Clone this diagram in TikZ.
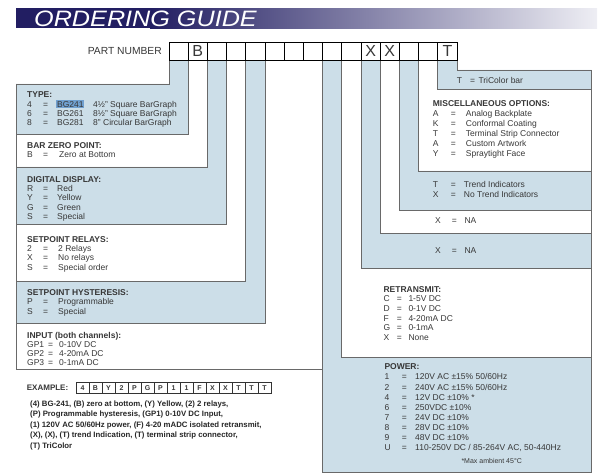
\documentclass[tikz,border=0pt]{standalone}
\usepackage{fontspec}
\setmainfont{Liberation Sans}
\usepackage{array}
\definecolor{navy}{RGB}{34,30,98}
\definecolor{navyfade}{RGB}{238,238,244}
\definecolor{tint}{RGB}{204,222,232}
\definecolor{wire}{RGB}{105,105,105}
\definecolor{ink}{RGB}{55,55,55}
\definecolor{hilite}{RGB}{112,160,208}
\setlength{\fboxsep}{0.8pt}

\begin{document}
\begin{tikzpicture}[x=1pt,y=-1pt,
    wire/.style={draw=wire,line width=0.9pt},
    pncell/.style={draw=black,line width=0.9pt,fill=white,
      minimum width=19.2pt,minimum height=18pt,inner sep=0pt,
      font=\fontsize{16}{16}\selectfont,text=ink},
    excell/.style={draw=black!80,line width=0.6pt,
      minimum width=13pt,minimum height=11pt,inner sep=0pt,
      font=\fontsize{7}{7}\selectfont\bfseries,text=ink},
    optbox/.style={anchor=north west,inner sep=0pt,text=ink,
      font=\fontsize{8.5}{#1}\selectfont}]
  \useasboundingbox (0,0) rectangle (600,476);

  % Titulo
  \fill[navy] (16,8.3) rectangle (150.5,28.3);
  \shade[left color=navy,right color=navyfade] (150,8.3) rectangle (597,28.3);
  \node[anchor=base west,inner sep=0pt,text=white,
        font=\fontsize{22.3}{24}\selectfont\itshape] (title)
        at (34,26.4) {\scalebox{1.13}[1]{ORDERING GUIDE}};

  % Fondos
  \foreach \xa/\ya/\xb/\yb in {169/84/188.2/134,207.4/167/226.6/224,
                              245.8/281/265/323}
    \fill[tint] (\xa,60) |- (16,\ya) -- (16,\yb) -| (\xb,60) -- cycle;
  \foreach \xa/\ya/\xb/\yb in {457/70/437.8/89,418.6/171/399.4/210,
                              380.2/233/361/268,341.8/357/322.6/472}
    \fill[tint] (\xa,60) |- (591,\ya) -- (591,\yb) -| (\xb,60) -- cycle;

  % Lineas
  \foreach \x/\y in {169/84,188.2/134,207.4/167,226.6/224,245.8/281,265/323}
    \draw[wire] (\x,60) |- (16,\y);
  \draw[wire] (16,84) -- (16,369) -- (322.6,369);
  \foreach \x/\y in {457/70,437.8/89,418.6/171,399.4/210,380.2/233,
                     361/268,341.8/357}
    \draw[wire] (\x,60) |- (591,\y);
  \draw[wire] (591,70) -- (591,472) -- (322.6,472) -- (322.6,60);

  % Numero de parte
  \node[anchor=east,inner sep=0pt,text=ink,
        font=\fontsize{10.3}{12}\selectfont] (pnlabel) at (162,51) {PART NUMBER};
  \foreach \c [count=\i from 0] in {{},B,{},{},{},{},{},{},{},{},X,X,{},{},T}
    \node[pncell] (pn\i) at (178.6+19.2*\i,51) {\c};

  % Opciones izquierda
  \node[optbox=9.3] (type) at (27,90.9) {%
    \begin{tabular}{@{}p{16pt}@{}p{14pt}@{}p{36pt}@{}l@{}}
    \multicolumn{4}{@{}l@{}}{\bfseries TYPE:}\\
    4 & = & \leavevmode\kern-0.8pt\colorbox{hilite}{BG241} & 4½" Square BarGraph\\
    6 & = & BG261 & 8½" Square BarGraph\\
    8 & = & BG281 & 8" Circular BarGraph
    \end{tabular}};
  \node[optbox=9.3] (barzero) at (27,141.4) {%
    \begin{tabular}{@{}p{16pt}@{}p{16pt}@{}l@{}}
    \multicolumn{3}{@{}l@{}}{\bfseries BAR ZERO POINT:}\\
    B & = & Zero at Bottom
    \end{tabular}};
  \node[optbox=9.3] (display) at (27,175.4) {%
    \begin{tabular}{@{}p{16pt}@{}p{14pt}@{}l@{}}
    \multicolumn{3}{@{}l@{}}{\bfseries DIGITAL DISPLAY:}\\
    R & = & Red\\
    Y & = & Yellow\\
    G & = & Green\\
    S & = & Special
    \end{tabular}};
  \node[optbox=9.3] (relays) at (27,235.4) {%
    \begin{tabular}{@{}p{16pt}@{}p{15pt}@{}l@{}}
    \multicolumn{3}{@{}l@{}}{\bfseries SETPOINT RELAYS:}\\
    2 & = & 2 Relays\\
    X & = & No relays\\
    S & = & Special order
    \end{tabular}};
  \node[optbox=9.3] (hyst) at (27,288.7) {%
    \begin{tabular}{@{}p{16pt}@{}p{15pt}@{}l@{}}
    \multicolumn{3}{@{}l@{}}{\bfseries SETPOINT HYSTERESIS:}\\
    P & = & Programmable\\
    S & = & Special
    \end{tabular}};
  \node[optbox=9.1] (input) at (27,331.6) {%
    \begin{tabular}{@{}p{21pt}@{}p{11pt}@{}l@{}}
    \multicolumn{3}{@{}l@{}}{\bfseries INPUT (both channels):}\\
    GP1 & = & 0-10V DC\\
    GP2 & = & 4-20mA DC\\
    GP3 & = & 0-1mA DC
    \end{tabular}};

  % Opciones derecha
  \node[optbox=9.9] (tricolor) at (456.7,76.8) {%
    \begin{tabular}{@{}p{13.3pt}@{}p{8.3pt}@{}l@{}}
    T & = & TriColor bar
    \end{tabular}};
  \node[optbox=9.9] (misc) at (432.7,99.4) {%
    \begin{tabular}{@{}p{18pt}@{}p{15pt}@{}l@{}}
    \multicolumn{3}{@{}l@{}}{\bfseries MISCELLANEOUS OPTIONS:}\\
    A & = & Analog Backplate\\
    K & = & Conformal Coating\\
    T & = & Terminal Strip Connector\\
    A & = & Custom Artwork\\
    Y & = & Spraytight Face
    \end{tabular}};
  \node[optbox=9.9] (trend) at (432.7,180.1) {%
    \begin{tabular}{@{}p{18pt}@{}p{13pt}@{}l@{}}
    T & = & Trend Indicators\\
    X & = & No Trend Indicators
    \end{tabular}};
  \node[optbox=9.9] (naone) at (435,216.1) {%
    \begin{tabular}{@{}p{16.7pt}@{}p{12.6pt}@{}l@{}}
    X & = & NA
    \end{tabular}};
  \node[optbox=9.9] (natwo) at (435,246.1) {%
    \begin{tabular}{@{}p{16.7pt}@{}p{12.6pt}@{}l@{}}
    X & = & NA
    \end{tabular}};
  \node[optbox=9.6] (retrans) at (383.3,285.3) {%
    \begin{tabular}{@{}p{13.4pt}@{}p{11.6pt}@{}l@{}}
    \multicolumn{3}{@{}l@{}}{\bfseries RETRANSMIT:}\\
    C & = & 1-5V DC\\
    D & = & 0-1V DC\\
    F & = & 4-20mA DC\\
    G & = & 0-1mA\\
    X & = & None
    \end{tabular}};
  \node[optbox=10.1] (power) at (384.3,362.6) {%
    \begin{tabular}{@{}p{17.4pt}@{}p{13.3pt}@{}l@{}}
    \multicolumn{3}{@{}l@{}}{\bfseries POWER:}\\
    1 & = & 120V AC ±15\% 50/60Hz\\
    2 & = & 240V AC ±15\% 50/60Hz\\
    4 & = & 12V DC ±10\% *\\
    6 & = & 250VDC ±10\%\\
    7 & = & 24V DC ±10\%\\
    8 & = & 28V DC ±10\%\\
    9 & = & 48V DC ±10\%\\
    U & = & 110-250V DC / 85-264V AC, 50-440Hz
    \end{tabular}};
  \node[inner sep=0pt,text=ink,font=\fontsize{7}{8}\selectfont] (maxamb)
        at (491.7,461) {*Max ambient 45°C};

  % Ejemplo
  \node[anchor=west,inner sep=0pt,text=ink,
        font=\fontsize{8}{9}\selectfont\bfseries] (exlabel) at (26.7,388) {EXAMPLE:};
  \foreach \c [count=\i from 0] in {4,B,Y,2,P,G,P,1,1,F,X,X,T,T,T}
    \node[excell] (ex\i) at (82.5+13*\i,388) {\c};
  \node[anchor=north west,inner sep=0pt,align=left,text=black!85,
        font=\fontsize{7.8}{10.5}\selectfont\bfseries] (exnote) at (30,400.3)
    {(4) BG-241, (B) zero at bottom, (Y) Yellow, (2) 2 relays,\\
     (P) Programmable hysteresis, (GP1) 0-10V DC Input,\\
     (1) 120V AC 50/60Hz power, (F) 4-20 mADC isolated retransmit,\\
     (X), (X), (T) trend Indication, (T) terminal strip connector,\\
     (T) TriColor};
\end{tikzpicture}
\end{document}
